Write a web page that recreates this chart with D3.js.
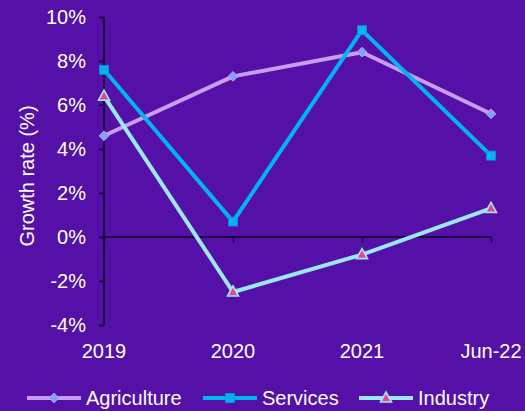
<!DOCTYPE html>
<html>
<head>
<meta charset="utf-8">
<script src="https://cdn.jsdelivr.net/npm/d3@7"></script>
<style>
  html, body { margin: 0; padding: 0; background: #5510a8; }
  svg { display: block; font-family: "Liberation Sans", Arial, sans-serif; }
</style>
</head>
<body>
<svg id="chart" width="525" height="411"></svg>
<script>
// Growth rate by sector
const categories = ["2019", "2020", "2021", "Jun-22"];
const agriculture = [4.6, 7.3, 8.4, 5.6];
const services = [7.6, 0.7, 9.4, 3.7];
const industry = [6.4, -2.5, -0.8, 1.3];
const yTicks = [-4, -2, 0, 2, 4, 6, 8, 10];
const seriesNames = ["Agriculture", "Services", "Industry"];

const W = 525, H = 411;
const plotLeft = 104, plotRight = 491, plotTop = 17, plotBottom = 325;
const bg = "#5510a8";
const axisColor = "#1c0b3c";

const svg = d3.select("#chart");
svg.append("rect").attr("width", W).attr("height", H).attr("fill", bg);

const x = d3.scalePoint().domain(categories).range([plotLeft, plotRight]);
const y = d3.scaleLinear().domain([-4, 10]).range([plotBottom, plotTop]);

// Y axis
const yAxis = svg.append("g")
  .attr("transform", `translate(${plotLeft},0)`)
  .call(d3.axisLeft(y).tickValues(yTicks).tickSize(5).tickPadding(13)
    .tickFormat(d => d + "%"));
yAxis.select(".domain").attr("stroke", axisColor).attr("stroke-width", 2)
  .attr("d", `M-0,${plotTop}V${plotBottom}`);
yAxis.selectAll(".tick line").attr("stroke", axisColor).attr("stroke-width", 2);
yAxis.selectAll(".tick text").attr("fill", "#ffffff").attr("font-size", 20)
  .attr("font-family", "Liberation Sans, Arial, sans-serif");

// X axis on the zero line
const xAxis = svg.append("g")
  .attr("transform", `translate(0,${y(0)})`)
  .call(d3.axisBottom(x).tickSize(6).tickPadding(0).tickFormat(() => ""));
xAxis.select(".domain").attr("stroke", axisColor).attr("stroke-width", 2)
  .attr("d", `M${plotLeft},0H${plotRight}`);
xAxis.selectAll(".tick line").attr("stroke", axisColor).attr("stroke-width", 1.5);

// Category labels along the bottom
svg.append("g").selectAll("text").data(categories).join("text")
  .attr("x", d => x(d)).attr("y", 358)
  .attr("text-anchor", "middle").attr("fill", "#ffffff").attr("font-size", 20)
  .text(d => d);

// Y axis title
svg.append("text")
  .attr("transform", `translate(34,176) rotate(-90)`)
  .attr("text-anchor", "middle").attr("fill", "#ffffff").attr("font-size", 20)
  .text("Growth rate (%)");

const styles = {
  Agriculture: { line: "#c79ff2", values: agriculture, marker: "diamond", fill: "#7fa2ff", stroke: "#c79ff2" },
  Services: { line: "#00b4ee", values: services, marker: "square", fill: "#00b4ee", stroke: "#00b4ee" },
  Industry: { line: "#9ae8fb", values: industry, marker: "triangle", fill: "#e8468c", stroke: "#9ae8fb" }
};

const line = d3.line().x((d, i) => x(categories[i])).y(d => y(d));

function drawMarker(g, type, cx, cy, s) {
  if (type === "diamond") {
    g.append("path").attr("d", d3.symbol(d3.symbolDiamond2, 60)())
      .attr("transform", `translate(${cx},${cy})`)
      .attr("fill", s.fill).attr("stroke", s.stroke).attr("stroke-width", 1);
  } else if (type === "square") {
    g.append("rect").attr("x", cx - 4.5).attr("y", cy - 4.5).attr("width", 9).attr("height", 9)
      .attr("fill", s.fill).attr("stroke", "#1090d8").attr("stroke-width", 0.8);
  } else {
    g.append("path").attr("d", `M${cx},${cy - 6}L${cx + 5.5},${cy + 4}L${cx - 5.5},${cy + 4}Z`)
      .attr("fill", s.fill).attr("stroke", s.stroke).attr("stroke-width", 1.6);
  }
}

// Draw order: Agriculture, Industry, Services on top
["Agriculture", "Industry", "Services"].forEach(name => {
  const s = styles[name];
  const g = svg.append("g");
  g.append("path").datum(s.values).attr("d", line)
    .attr("fill", "none").attr("stroke", s.line).attr("stroke-width", 4)
    .attr("stroke-linejoin", "round");
  s.values.forEach((v, i) => drawMarker(g, s.marker, x(categories[i]), y(v), s));
});

// Legend
const legendPos = { Agriculture: 27, Services: 203, Industry: 359 };
seriesNames.forEach(name => {
  const s = styles[name];
  const lx = legendPos[name], ly = 398;
  const g = svg.append("g");
  g.append("line").attr("x1", lx).attr("x2", lx + 54).attr("y1", ly).attr("y2", ly)
    .attr("stroke", s.line).attr("stroke-width", 4);
  drawMarker(g, s.marker, lx + 27, ly, s);
  g.append("text").attr("x", lx + 59).attr("y", ly + 7)
    .attr("fill", "#ffffff").attr("font-size", 20).text(name);
});
</script>
</body>
</html>
